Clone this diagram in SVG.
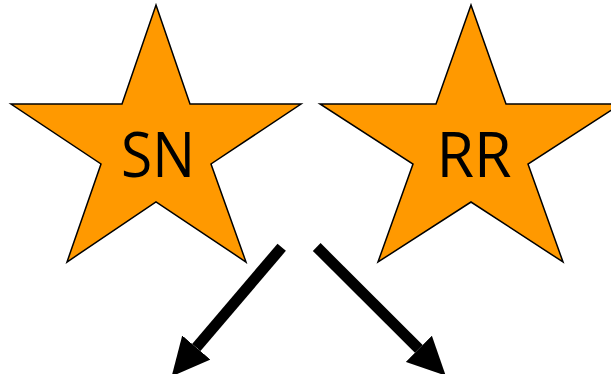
<svg xmlns="http://www.w3.org/2000/svg" width="611" height="374" viewBox="0 0 611 374">
<style>
.star{fill:#FF9900;stroke:#000;stroke-width:1.5;stroke-linejoin:miter}
.lbl{font-family:"Open Sans","Noto Sans",sans-serif;font-size:63px;fill:#000;text-anchor:middle}
.arr{stroke:#000;stroke-width:11;fill:none}
</style>
<defs>
<marker id="ah" markerUnits="userSpaceOnUse" markerWidth="38" markerHeight="37" viewBox="0 0 38 37" refX="0" refY="18.5" orient="auto">
<path d="M0,0 L38,18.5 L0,37 Z" fill="#000"/>
</marker>
</defs>
<rect width="611" height="374" fill="#fff"/>
<g id="star-sn">
<polygon class="star" points="156,5 190,104 301,104 211,164 246,262 156,202 67,262 101,164 11,104 122,104"/>
<text class="lbl" x="158" y="177" textLength="74" lengthAdjust="spacingAndGlyphs">SN</text>
</g>
<g id="star-rr">
<polygon class="star" points="471,5 506,104 621,104 528,164 563,262 471,202 378,262 413,164 320,104 436,104"/>
<text class="lbl" x="474" y="177" textLength="75" lengthAdjust="spacingAndGlyphs">RR</text>
</g>
<g id="connectors">
<line class="arr" x1="281.7" y1="247.3" x2="196.3" y2="347.5" marker-end="url(#ah)"/>
<line class="arr" x1="316.7" y1="247" x2="418.8" y2="348.8" marker-end="url(#ah)"/>
</g>
</svg>
